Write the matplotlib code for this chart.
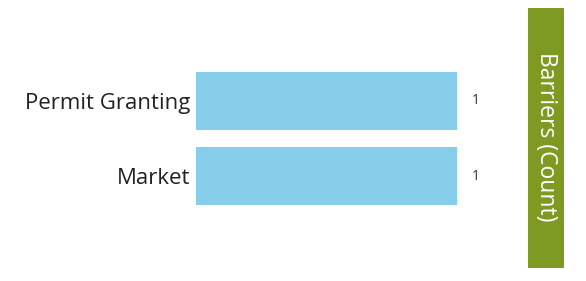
import matplotlib
matplotlib.use("Agg")
import matplotlib.pyplot as plt
from matplotlib.patches import Rectangle

categories = ["Permit Granting", "Market"]
counts = [1, 1]
title = "Barriers (Count)"

plt.rcParams['font.family'] = ['Open Sans', 'DejaVu Sans']

fig = plt.figure(figsize=(5.86, 2.81), dpi=100)
ax = fig.add_axes([196/586, 1 - 213.5/281, 261/586, 150/281])
ypos = list(range(len(categories)))
ax.barh(ypos, counts, height=0.773, color="#87CEEB")
ax.set_xlim(0, max(counts))
ax.set_ylim(len(categories) - 0.5, -0.5)
ax.set_yticks(ypos)
ax.set_yticklabels(categories, fontsize=16, color="#222222")
ax.tick_params(axis='y', length=0, pad=4)
ax.set_xticks([])
for s in ax.spines.values():
    s.set_visible(False)
for y, v in zip(ypos, counts):
    ax.annotate(str(v), xy=(v, y), xytext=(11, 0), textcoords='offset points',
                va='center', ha='left', fontsize=10, color="#333333")

fig.patches.append(Rectangle((528/586, 1 - 268/281), 36/586, 260/281,
                             transform=fig.transFigure, facecolor="#7F9A23",
                             edgecolor="none"))
fig.text(546/586, 1 - 137/281, title, rotation=-90, ha='center', va='center',
         color="white", fontsize=16.5)

fig.savefig("out.png", dpi=100)
